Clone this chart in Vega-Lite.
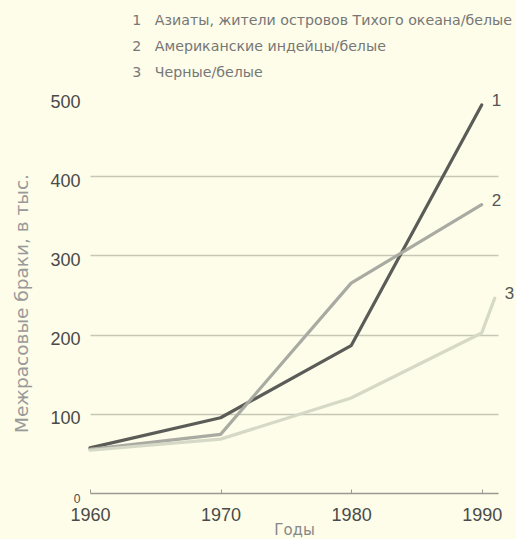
{
  "$schema": "https://vega.github.io/schema/vega-lite/v6.json",
  "width": 408,
  "height": 396,
  "autosize": "none",
  "padding": {"left": 90, "top": 97, "right": 18, "bottom": 46},
  "background": "#fdfde9",
  "config": {"view": {"stroke": null}, "font": "Liberation Sans"},
  "data": {
    "values": [
      {"series": "Азиаты, жители островов Тихого океана/белые", "year": 1960, "value": 57},
      {"series": "Азиаты, жители островов Тихого океана/белые", "year": 1970, "value": 95},
      {"series": "Азиаты, жители островов Тихого океана/белые", "year": 1980, "value": 186},
      {"series": "Азиаты, жители островов Тихого океана/белые", "year": 1990, "value": 490, "label": "1"},
      {"series": "Американские индейцы/белые", "year": 1960, "value": 55},
      {"series": "Американские индейцы/белые", "year": 1970, "value": 74},
      {"series": "Американские индейцы/белые", "year": 1980, "value": 265},
      {"series": "Американские индейцы/белые", "year": 1990, "value": 364, "label": "2"},
      {"series": "Черные/белые", "year": 1960, "value": 54},
      {"series": "Черные/белые", "year": 1970, "value": 68},
      {"series": "Черные/белые", "year": 1980, "value": 120},
      {"series": "Черные/белые", "year": 1990, "value": 202},
      {"series": "Черные/белые", "year": 1991, "value": 246, "label": "3"}
    ]
  },
  "layer": [
    {
      "mark": {"type": "line", "strokeWidth": 3.2, "strokeCap": "round", "strokeJoin": "round"},
      "encoding": {
        "x": {
          "field": "year", "type": "quantitative",
          "scale": {"domain": [1960, 1991.25], "nice": false, "zero": false},
          "axis": {
            "values": [1960, 1970, 1980, 1990], "format": "d", "grid": false, "labelFlush": false,
            "labelFontSize": 18, "labelColor": "#4a4a4a", "labelPadding": 17,
            "domainColor": "#9a9a92", "domainWidth": 1.5,
            "tickColor": "#9a9a92", "tickSize": -4,
            "title": "Годы", "titleFont": "DejaVu Sans", "titleFontSize": 15, "titleColor": "#888", "titleFontWeight": "normal",
            "titleY": 41, "titleBaseline": "alphabetic"
          }
        },
        "y": {
          "field": "value", "type": "quantitative",
          "scale": {"domain": [0, 500], "nice": false},
          "axis": {
            "values": [0, 100, 200, 300, 400, 500],
            "labelFontSize": {"condition": {"test": "datum.value == 0", "value": 12}, "value": 18},
            "labelColor": "#4a4a4a", "labelPadding": 10, "labelOffset": 5,
            "domain": false, "ticks": false,
            "grid": true,
            "gridColor": {"condition": {"test": "datum.value == 0 || datum.value == 500", "value": "transparent"}, "value": "#c6c7b6"},
            "gridWidth": 1.5,
            "title": "Межрасовые браки, в тыс.", "titleFont": "DejaVu Sans", "titleFontSize": 18.5, "titleColor": "#999", "titleFontWeight": "normal",
            "titlePadding": 18, "titleY": 206
          }
        },
        "color": {
          "field": "series", "type": "nominal",
          "scale": {
            "domain": ["Азиаты, жители островов Тихого океана/белые", "Американские индейцы/белые", "Черные/белые"],
            "range": ["#5b5c57", "#a9aba2", "#d5d9c6"]
          },
          "legend": {
            "orient": "none", "legendX": 28, "legendY": -83, "title": null,
            "symbolSize": 0, "symbolStrokeWidth": 0, "symbolOpacity": 0, "labelOffset": 0,
            "labelFont": "DejaVu Sans", "labelFontSize": 14.2, "labelColor": "#777", "labelLimit": 0, "rowPadding": 11, "padding": 0,
            "labelExpr": "(indexof(['Азиаты, жители островов Тихого океана/белые', 'Американские индейцы/белые', 'Черные/белые'], datum.value) + 1) + '\u00a0\u00a0\u00a0' + datum.label"
          }
        }
      }
    },
    {
      "transform": [{"filter": "datum.label"}],
      "mark": {"type": "text", "dx": 10, "dy": -4, "align": "left", "baseline": "middle", "fontSize": 17, "color": "#555"},
      "encoding": {
        "x": {"field": "year", "type": "quantitative"},
        "y": {"field": "value", "type": "quantitative"},
        "text": {"field": "label"}
      }
    }
  ]
}
